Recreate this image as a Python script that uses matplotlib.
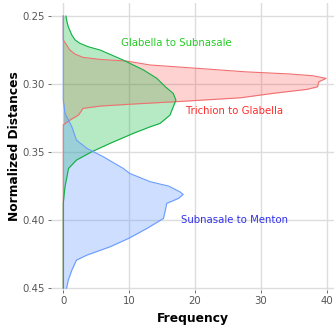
import numpy as np
import matplotlib.pyplot as plt

# normalized distance (y) and frequency (x)
tg_dist = [0.25, 0.2676, 0.2713, 0.275, 0.278, 0.2804, 0.2819, 0.2831, 0.2860, 0.2886,
           0.2910, 0.2926, 0.2939, 0.2958, 0.2983, 0.3020, 0.3039, 0.3068, 0.3101,
           0.3130, 0.3140, 0.3147, 0.3162, 0.3179, 0.3228, 0.3265, 0.330, 0.45]
tg_freq = [0, 0, 0.5, 1.0, 1.8, 3.0, 5.6, 9.6, 13.2, 20.8,
           27.6, 34.4, 37.9, 39.9, 38.8, 38.6, 37.0, 31.9, 26.9,
           17.0, 13.2, 10.6, 5.6, 3.0, 2.3, 1.0, 0, 0]

gs_dist = [0.25, 0.2542, 0.2579, 0.264, 0.2676, 0.270, 0.2726, 0.275, 0.2824, 0.2897,
           0.2958, 0.302, 0.3069, 0.3118, 0.3167, 0.3228, 0.3289, 0.3314, 0.3363,
           0.3436, 0.3498, 0.3559, 0.362, 0.3755, 0.3875, 0.45]
gs_freq = [0.4, 0.56, 0.76, 1.3, 1.8, 2.5, 3.8, 5.6, 9.1, 12.2,
           14.2, 15.5, 16.7, 17.1, 16.7, 16.2, 14.7, 13.2, 10.6,
           7.1, 4.3, 2.0, 0.8, 0.26, 0, 0]

sm_dist = [0.25, 0.3118, 0.3215, 0.3314, 0.3412, 0.3473, 0.3535, 0.362, 0.3657, 0.3718,
           0.375, 0.3792, 0.3811, 0.384, 0.3877, 0.3926, 0.3988, 0.4061, 0.4135,
           0.4196, 0.4257, 0.4294, 0.4368, 0.4441, 0.45]
sm_freq = [0, 0, 0.26, 1.3, 2.0, 3.6, 6.1, 9.1, 10.1, 13.2,
           16.0, 17.7, 18.2, 17.5, 15.7, 15.5, 15.2, 12.7, 9.9,
           7.1, 3.6, 2.0, 1.3, 0.76, 0.5]

x_ticks = [0, 10, 20, 30, 40]
y_ticks = [0.25, 0.30, 0.35, 0.40, 0.45]

fig = plt.figure(figsize=(3.34, 3.29), dpi=100)
ax = fig.add_axes([0.152, 0.118, 0.848, 0.873])

# red, green, blue densities
ax.fill_betweenx(tg_dist, 0, tg_freq, color="#ff2020", alpha=0.2, lw=0)
ax.plot(tg_freq, tg_dist, color="#f07070", lw=0.8)
ax.fill_betweenx(gs_dist, 0, gs_freq, color="#20c050", alpha=0.33, lw=0)
ax.plot(gs_freq, gs_dist, color="#10b040", lw=0.8)
ax.fill_betweenx(sm_dist, 0, sm_freq, color="#6a9cff", alpha=0.33, lw=0)
ax.plot(sm_freq, sm_dist, color="#6a9cff", lw=0.8)

ax.text(17.1, 0.2699, "Glabella to Subnasale", color="#22cc22", fontsize=7.3,
        ha="center", va="center")
ax.text(26.0, 0.3199, "Trichion to Glabella", color="#ff2a2a", fontsize=7.3,
        ha="center", va="center")
ax.text(26.0, 0.4000, "Subnasale to Menton", color="#3030ee", fontsize=7.3,
        ha="center", va="center")

ax.set_xlim(-1.9, 41.1)
ax.set_ylim(0.4515, 0.2404)
ax.set_xticks(x_ticks)
ax.set_xticklabels([str(v) for v in x_ticks])
ax.set_yticks(y_ticks)
ax.set_yticklabels(["%.2f" % v for v in y_ticks])

ax.grid(True, color="#dddddd", lw=1.0)
ax.set_axisbelow(True)
for s in ax.spines.values():
    s.set_visible(False)
ax.tick_params(colors="#555555", labelsize=7.3, length=2.5, width=0.6,
               labelcolor="#555555", pad=2)

ax.set_xlabel("Frequency", fontsize=8.8, fontweight="bold", labelpad=4)
ax.set_ylabel("Normalized Distances", fontsize=8.8, fontweight="bold", labelpad=1)

fig.savefig("out.png", dpi=100)
